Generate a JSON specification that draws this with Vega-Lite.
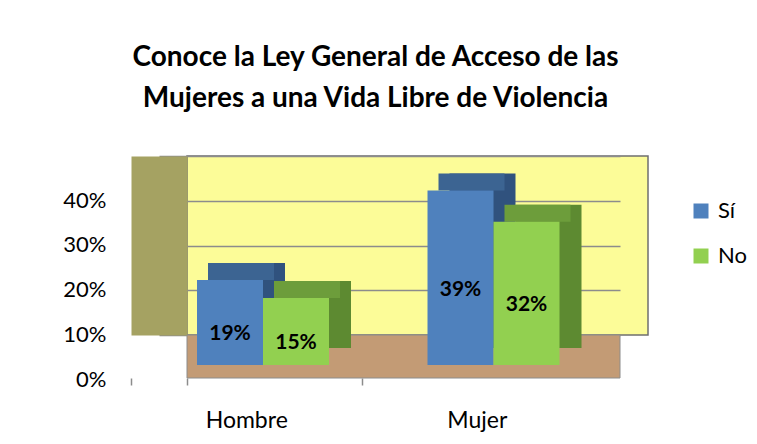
{
  "$schema": "https://vega.github.io/schema/vega-lite/v6.json",
  "autosize": {"type": "none"},
  "width": 461,
  "height": 179,
  "padding": {"left": 187, "top": 156, "right": 109, "bottom": 109},
  "background": "white",
  "title": {
    "text": ["Conoce la Ley General de Acceso de las", "Mujeres a una Vida Libre de Violencia"],
    "font": "Lato",
    "fontSize": 28,
    "fontWeight": "bold",
    "color": "black",
    "anchor": "middle",
    "dx": -42,
    "offset": 43,
    "lineHeight": 41
  },
  "data": {
    "values": [
      {"Sexo": "Hombre", "Respuesta": "Sí", "valor": 0.19},
      {"Sexo": "Hombre", "Respuesta": "No", "valor": 0.15},
      {"Sexo": "Mujer", "Respuesta": "Sí", "valor": 0.39},
      {"Sexo": "Mujer", "Respuesta": "No", "valor": 0.32}
    ]
  },
  "layer": [
    {
      "data": {"values": [{"piso": 0}]},
      "mark": {"type": "rect", "fill": "#c39b75", "stroke": "#8c8c8c", "strokeWidth": 1, "xOffset": -28, "x2Offset": -28, "y2Offset": 43},
      "encoding": {
        "y": {"datum": 0, "type": "quantitative", "scale": {"domain": [0, 0.4], "nice": false}, "axis": null},
        "y2": {"datum": 0}
      }
    },
    {
      "mark": {"type": "bar", "yOffset": 13, "y2Offset": 13},
      "encoding": {
        "x": {"field": "Sexo", "type": "nominal", "sort": ["Hombre", "Mujer"], "scale": {"paddingInner": 0, "paddingOuter": 0}, "axis": {"title": null, "tickOffset": -56, "bandPosition": 0, "tickExtra": true}},
        "xOffset": {"field": "Respuesta", "type": "nominal", "sort": ["Sí", "No"], "scale": {"range": [32, 164], "paddingInner": 0, "paddingOuter": 0}},
        "y": {"field": "valor", "type": "quantitative", "scale": {"domain": [0, 0.4], "nice": false}, "axis": null},
        "fill": {"condition": {"test": "datum.Respuesta === 'Sí'", "value": "#30527e"}, "value": "#5d8a31"}
      }
    },
    {
      "mark": {"type": "bar", "yOffset": 13, "y2Offset": 30},
      "encoding": {
        "x": {"field": "Sexo", "type": "nominal", "sort": ["Hombre", "Mujer"], "scale": {"paddingInner": 0, "paddingOuter": 0}, "axis": {"title": null, "tickOffset": -56, "bandPosition": 0, "tickExtra": true}},
        "xOffset": {"field": "Respuesta", "type": "nominal", "sort": ["Sí", "No"], "scale": {"range": [21, 153], "paddingInner": 0, "paddingOuter": 0}},
        "y": {"field": "valor", "type": "quantitative", "scale": {"domain": [0, 0.4], "nice": false}, "axis": null},
        "y2": {"field": "valor"},
        "fill": {"condition": {"test": "datum.Respuesta === 'Sí'", "value": "#3c6492"}, "value": "#6d9d3b"}
      }
    },
    {
      "mark": {"type": "bar", "yOffset": 30, "y2Offset": 30},
      "encoding": {
        "x": {"field": "Sexo", "type": "nominal", "sort": ["Hombre", "Mujer"], "scale": {"paddingInner": 0, "paddingOuter": 0}, "axis": {"title": null, "tickOffset": -56, "bandPosition": 0, "tickExtra": true}},
        "xOffset": {"field": "Respuesta", "type": "nominal", "sort": ["Sí", "No"], "scale": {"range": [10, 142], "paddingInner": 0, "paddingOuter": 0}},
        "y": {
          "field": "valor", "type": "quantitative",
          "scale": {"domain": [0, 0.4], "nice": false},
          "axis": {"title": null, "format": ".0%", "values": [0, 0.1, 0.2, 0.3, 0.4], "grid": true, "gridColor": "#8c8c8c", "gridWidth": 1.5, "gridOpacity": 1}
        },
        "color": {
          "field": "Respuesta", "type": "nominal", "sort": ["Sí", "No"],
          "scale": {"domain": ["Sí", "No"], "range": ["#4f81bd", "#92d050"]},
          "legend": {
            "title": null, "orient": "none", "legendX": 503, "legendY": 44,
            "symbolType": "square", "symbolSize": 225, "symbolStrokeWidth": 0, "symbolOpacity": 1,
            "labelFont": "Lato", "labelFontSize": 22, "labelColor": "black", "labelOffset": 6,
            "rowPadding": 23, "padding": 0
          }
        }
      }
    },
    {
      "mark": {"type": "text", "yOffset": 42, "font": "Lato", "fontSize": 21, "fontWeight": "bold", "color": "black", "baseline": "middle", "align": "center"},
      "encoding": {
        "x": {"field": "Sexo", "type": "nominal", "sort": ["Hombre", "Mujer"], "scale": {"paddingInner": 0, "paddingOuter": 0}, "axis": {"title": null, "tickOffset": -56, "bandPosition": 0, "tickExtra": true}},
        "xOffset": {"field": "Respuesta", "type": "nominal", "sort": ["Sí", "No"], "scale": {"range": [43, 109], "padding": 0}},
        "y": {"field": "valor", "type": "quantitative", "scale": {"domain": [0, 0.8], "nice": false}, "axis": null},
        "text": {"field": "valor", "type": "quantitative", "format": ".0%"}
      }
    }
  ],
  "resolve": {"scale": {"y": "independent", "xOffset": "independent"}},
  "config": {
    "view": {"fill": "#fcfc98", "stroke": "#6f6f6f", "strokeWidth": 1.5},
    "font": "Lato",
    "axisY": {
      "orient": "left", "offset": 28, "domain": true, "domainColor": "#a5a262", "domainWidth": 56, "domainCap": "butt",
      "ticks": false, "labelPadding": 53, "labelOffset": 44, "labelFont": "Lato", "labelFontSize": 22, "labelColor": "black",
      "grid": true, "gridColor": "#8c8c8c", "gridWidth": 1.5
    },
    "axisX": {
      "orient": "bottom", "offset": 43, "domain": false, "ticks": true,
      "tickSize": 7, "tickColor": "#8c8c8c", "tickWidth": 1.5, "labelPadding": 24, "labelAngle": 0,
      "labelFont": "Lato", "labelFontSize": 23, "labelColor": "black", "grid": false
    }
  }
}
